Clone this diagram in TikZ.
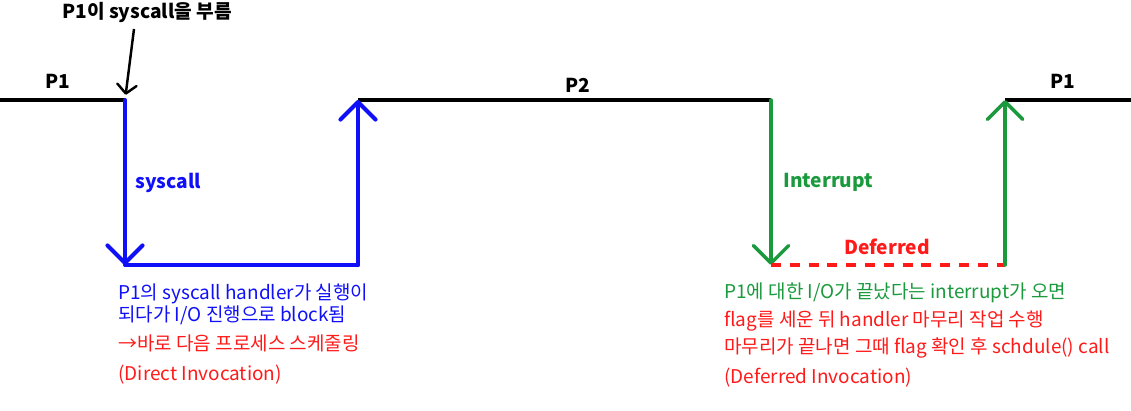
\documentclass[tikz,border=0pt]{standalone}
\usepackage{fontspec}
\setmainfont{Noto Sans CJK KR}
\usepackage{xcolor}
\definecolor{Pure Blue}{HTML}{1010F8}
\definecolor{Leaf Green}{HTML}{1B9A3D}
\definecolor{Alarm Red}{HTML}{FF1A1A}
\colorlet{cBlue}{Pure Blue}
\colorlet{cGreen}{Leaf Green}
\colorlet{cRed}{Alarm Red}
\usepackage{tikz}
\usetikzlibrary{calc, positioning, arrows.meta}
\tikzset{
	node distance = 1.5em,
	line width = 2.3pt,
	>={Straight Barb[length=10pt, width=20pt, round]},
	font = \fontsize{10.8}{12}\selectfont,
	timeline/.style={
		draw=black,
		line width=2.8pt
	},
	sysjump/.style={
		draw=cBlue,
		line width=2.3pt,
		line cap=round
	},
	intjump/.style={
		draw=cGreen,
		line width=2pt,
		line cap=round
	},
	deferred/.style={
		draw=cRed,
		line width=2.3pt,
		dash pattern=on 5.7pt off 5pt
	},
	pointer/.style={
		->,
		line width=1.4pt,
		>={Straight Barb[length=5pt, width=11pt, round]}
	},
	proc/.style={
		font=\fontsize{10.9}{12}\selectfont\bfseries,
		inner sep=0pt,
		anchor=base
	},
	note/.style={
		inner sep=0pt,
		anchor=base west
	}
}

\begin{document}
\begin{tikzpicture}[x=0.02cm, y=-0.02cm]
\useasboundingbox (0,0) rectangle (1131,411);
% ---
% time line
% ---
\coordinate (left-edge) at (0,100);
\coordinate (p1-stop) at (125,100);
\coordinate (sys-corner) at (125,265);
\coordinate (sys-back) at (358,265);
\coordinate (p2-start) at (358,100);
\coordinate (p2-stop) at (771,100);
\coordinate (int-corner) at (771,265);
\coordinate (int-back) at (1005,265);
\coordinate (p1-start) at (1005,100);
\coordinate (right-edge) at (1131,100);

\draw[timeline] (left-edge) -- (p1-stop);
\draw[timeline] (p2-start) -- (p2-stop);
\draw[timeline] (p1-start) -- (right-edge);

\node[proc] (p1-left) at (58,89) {P1};
\node[proc] (p2-mid) at (578,93) {P2};
\node[proc] (p1-right) at (1063,89) {P1};

% ---
% syscall: direct invocation
% ---
\node[proc] (call-note) at (147,19) {P1이 syscall을 부름};
\coordinate (call-tail) at (134,29);
\draw[pointer, shorten >=3pt] (call-tail) -- (p1-stop);

\draw[sysjump, ->] (p1-stop) -- (sys-corner);
\draw[sysjump] (sys-corner) -- (sys-back);
\draw[sysjump, ->] (sys-back) -- (p2-start);
\node[proc, anchor=base west, text=cBlue] (sys-label) at (135,189) {syscall};

\node[note, text=cBlue] (sys-line1) at (118,300) {P1의 syscall handler가 실행이};
\node[note, text=cBlue] (sys-line2) at (118,322) {되다가 I/O 진행으로 block됨};
\node[note, text=cRed] (sys-line3) at (118,351) {→바로 다음 프로세스 스케줄링};
\node[note, text=cRed] (sys-line4) at (118,380) {(Direct Invocation)};

% ---
% interrupt: deferred invocation
% ---
\draw[intjump, ->] (p2-stop) -- (int-corner);
\draw[deferred] (int-corner) -- (int-back);
\draw[intjump, ->] (int-back) -- (p1-start);
\node[proc, anchor=base west, text=cGreen] (int-label) at (783,188) {Interrupt};
\node[proc, text=cRed] (def-label) at (887,255) {Deferred};

\node[note, text=cGreen] (int-line1) at (724,299) {P1에 대한 I/O가 끝났다는 interrupt가 오면};
\node[note, text=cRed] (int-line2) at (724,327) {flag를 세운 뒤 handler 마무리 작업 수행};
\node[note, text=cRed] (int-line3) at (724,354) {마무리가 끝나면 그때 flag 확인 후 schdule() call};
\node[note, text=cRed] (int-line4) at (724,383) {(Deferred Invocation)};
\end{tikzpicture}
\end{document}
